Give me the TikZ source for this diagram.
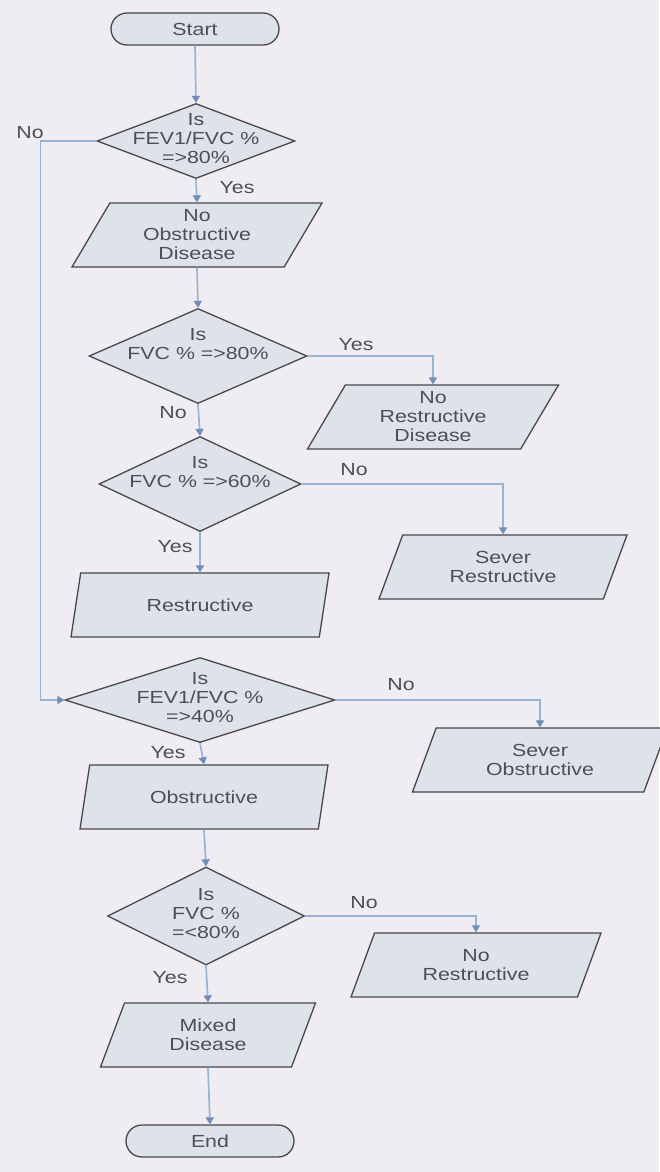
\documentclass[tikz,border=0pt]{standalone}
\usepackage{fontspec}
\setmainfont{Liberation Sans}[FakeStretch=1.22]
\usetikzlibrary{shapes.geometric,arrows.meta}

\definecolor{paper}{RGB}{239,237,242}
\definecolor{boxfill}{RGB}{222,226,233}
\definecolor{boxline}{RGB}{72,72,78}
\definecolor{flow}{RGB}{152,180,212}
\definecolor{flowtip}{RGB}{112,142,184}
\definecolor{ink}{RGB}{78,78,86}

% text block of a decision: no width or height of its own, centred on the node
\newcommand{\dtext}[1]{\makebox[0pt]{\raisebox{-0.25em}{\begin{tabular}{@{}c@{}}#1\end{tabular}}}}

\begin{document}
\begin{tikzpicture}[x=1pt,y=-1pt,
  every node/.style={font=\fontsize{17.5}{19}\selectfont, text=ink},
  shapeline/.style={draw=boxline, fill=boxfill, line width=1.3pt},
  terminal/.style={shapeline, rectangle, rounded corners=16pt,
    minimum width=168pt, minimum height=32pt, inner sep=0pt},
  decision/.style 2 args={shapeline, diamond, minimum width=#1,
    minimum height=#2, inner sep=0pt, text height=0pt, text depth=0pt},
  para/.style={shapeline, trapezium, trapezium left angle=53,
    trapezium right angle=127, trapezium stretches body,
    minimum width=#1, minimum height=64pt, inner sep=0pt, align=center},
  flowline/.style={draw=flow, line width=1.7pt,
    -{Triangle[length=7pt,width=8pt,color=flowtip]}},
  lbl/.style={inner sep=0pt}
]
\useasboundingbox (0,0) rectangle (659,1172);
\fill[paper] (0,0) rectangle (659,1172);

% main column
\node[terminal] (start) at (195,29) {Start};
\node[decision={198pt}{75pt}] (d1) at (196,141)
  {\dtext{Is\\FEV1/FVC \%\\=>80\%}};
\node[para=250pt] (p1) at (197,235) {No\\Obstructive\\Disease};
\node[decision={218pt}{95pt}] (d2) at (198,356)
  {\dtext{Is\\FVC \% =>80\%\\\mbox{}}};
\node[para=251pt] (p2) at (433,417) {No\\Restructive\\Disease};
\node[decision={202pt}{95pt}] (d3) at (200,484)
  {\dtext{Is\\FVC \% =>60\%\\\mbox{}}};
\node[para=248pt] (p3) at (503,567) {Sever\\Restructive};
\node[para=258pt] (p4) at (200,605) {Restructive};
\node[decision={270pt}{85pt}] (d4) at (200,700)
  {\dtext{Is\\FEV1/FVC \%\\=>40\%}};
\node[para=255pt] (p5) at (540,760) {Sever\\Obstructive};
\node[para=248pt] (p6) at (204,797) {Obstructive};
\node[decision={197pt}{98pt}] (d5) at (206,916)
  {\dtext{Is\\FVC \%\\=<80\%}};
\node[para=250pt] (p7) at (476,965) {No\\Restructive};
\node[para=215pt] (p8) at (208,1035) {Mixed\\Disease};
\node[terminal] (end) at (210,1141) {End};

% connectors
\draw[flowline] (start.south) -- (d1.north);
\draw[flowline] (d1.south) -- (p1.north);
\draw[flowline] (d1.west) -- ++(-56,0) |- (d4.west);
\draw[flowline] (p1.south) -- (d2.north);
\draw[flowline] (d2.east) -| (p2.north);
\draw[flowline] (d2.south) -- (d3.north);
\draw[flowline] (d3.east) -| (p3.north);
\draw[flowline] (d3.south) -- (p4.north);
\draw[flowline] (d4.east) -| (p5.north);
\draw[flowline] (d4.south) -- (p6.north);
\draw[flowline] (p6.south) -- (d5.north);
\draw[flowline] (d5.east) -| (p7.north);
\draw[flowline] (d5.south) -- (p8.north);
\draw[flowline] (p8.south) -- (end.north);

% branch labels
\node[lbl] (l1) at (30,133) {No};
\node[lbl] (l2) at (237,188) {Yes};
\node[lbl] (l3) at (356,345) {Yes};
\node[lbl] (l4) at (173,413) {No};
\node[lbl] (l5) at (354,470) {No};
\node[lbl] (l6) at (175,547) {Yes};
\node[lbl] (l7) at (401,685) {No};
\node[lbl] (l8) at (168,753) {Yes};
\node[lbl] (l9) at (364,903) {No};
\node[lbl] (l10) at (170,978) {Yes};
\end{tikzpicture}
\end{document}
